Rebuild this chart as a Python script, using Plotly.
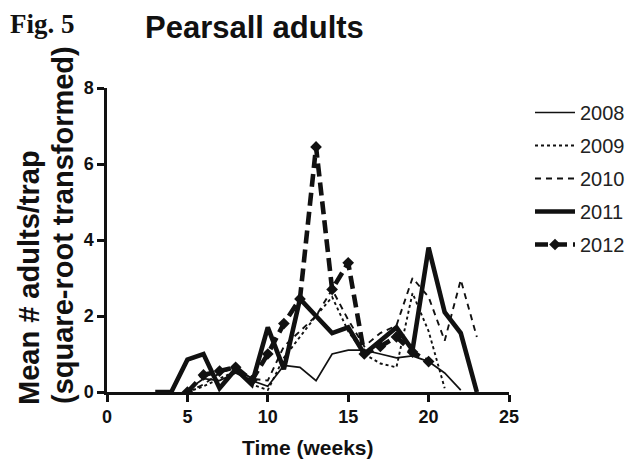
import plotly.graph_objects as go

# Weekly mean adult counts per trap (square-root transformed), Pearsall site
weeks_2008 = list(range(5, 23))
adults_2008 = [0.05, 0.35, 0.3, 0.5, 0.3, 0.15, 0.7, 0.65, 0.3, 1.0, 1.1, 1.1, 1.0, 0.9, 0.95, 0.8, 0.5, 0.05]

weeks_2009 = list(range(5, 22))
adults_2009 = [0.0, 0.15, 0.35, 0.55, 0.2, 0.05, 0.9, 1.45, 2.0, 2.5, 1.6, 1.0, 0.75, 0.65, 2.6, 1.6, 0.1]

weeks_2010 = list(range(5, 24))
adults_2010 = [0.0, 0.2, 0.5, 0.65, 0.35, 0.3, 1.2, 1.6, 2.0, 2.7, 1.9, 1.2, 1.55, 1.75, 3.0, 2.5, 1.35, 2.95, 1.45]

weeks_2011 = list(range(3, 24))
adults_2011 = [0.0, 0.0, 0.85, 1.0, 0.1, 0.6, 0.2, 1.7, 0.6, 2.45, 2.0, 1.55, 1.7, 1.0, 1.35, 1.7, 1.1, 3.8, 2.1, 1.55, 0.0]

weeks_2012 = list(range(5, 21))
adults_2012 = [0.0, 0.45, 0.55, 0.65, 0.3, 1.0, 1.8, 2.45, 6.45, 2.7, 3.4, 1.0, 1.2, 1.45, 1.05, 0.8]

x_ticks = [0, 5, 10, 15, 20, 25]
y_ticks = [0, 2, 4, 6, 8]

FONT = "Liberation Sans, Arial, sans-serif"
INK = "#111111"

# Page geometry: plot box from x=107 to 509 px, y=88 to 392 px
W, H = 633, 464
L, T, B = 107, 88, 72
PAPER_W = W - L
X_DOMAIN_END = 402 / PAPER_W


def px_x(p):
    return (p - L) / PAPER_W


def px_y(p):
    return (H - B - p) / (H - T - B)


fig = go.Figure()

series = [
    ("2008", weeks_2008, adults_2008, dict(width=1.7, dash="solid"), None),
    ("2009", weeks_2009, adults_2009, dict(width=1.9, dash="dot"), None),
    ("2010", weeks_2010, adults_2010, dict(width=1.9, dash="6px,5px"), None),
    ("2011", weeks_2011, adults_2011, dict(width=4.6, dash="solid"), None),
    ("2012", weeks_2012, adults_2012, dict(width=4.6, dash="13px,6px"),
     dict(symbol="diamond", size=9, color=INK)),
]

for i, (name, xs, ys, line, marker) in enumerate(series):
    fig.add_trace(go.Scatter(
        x=xs, y=ys, name=name,
        mode="lines+markers" if marker else "lines",
        line=dict(color=INK, **line),
        marker=marker,
        legendgroup=f"g{i}",
    ))

axis_font = dict(family=FONT, size=18, color=INK, weight="bold")

fig.update_xaxes(
    domain=[0, X_DOMAIN_END], automargin=False,
    range=[0, 25], tickvals=x_ticks, showgrid=False, zeroline=False,
    showline=True, linecolor=INK, linewidth=2.5,
    ticks="outside", ticklen=7, tickwidth=2.5, tickcolor=INK,
    tickfont=axis_font,
)
fig.update_yaxes(
    automargin=False,
    range=[0, 8], tickvals=y_ticks, showgrid=False, zeroline=False,
    showline=True, linecolor=INK, linewidth=2.5,
    ticks="outside", ticklen=7, tickwidth=2.5, tickcolor=INK,
    tickfont=axis_font,
)

fig.update_layout(
    width=W, height=H,
    margin=dict(l=L, r=0, t=T, b=B),
    plot_bgcolor="white", paper_bgcolor="white",
    showlegend=True,
    legend=dict(
        x=px_x(530), y=px_y(93), xanchor="left", yanchor="top",
        font=dict(family=FONT, size=20, color="#222222"),
        tracegroupgap=4, itemwidth=40, bgcolor="rgba(0,0,0,0)",
    ),
    annotations=[
        dict(text="Pearsall adults", xref="paper", yref="paper",
             x=px_x(254), y=px_y(27), xanchor="center", yanchor="middle", showarrow=False,
             font=dict(family=FONT, size=31, color=INK, weight="bold")),
        dict(text="Fig. 5", xref="paper", yref="paper",
             x=px_x(8), y=px_y(24), xanchor="left", yanchor="middle", showarrow=False,
             font=dict(family="Liberation Serif, Times New Roman, serif", size=27, color=INK, weight="bold")),
        dict(text="Time (weeks)", xref="paper", yref="paper",
             x=px_x(308), y=px_y(447), xanchor="center", yanchor="middle", showarrow=False,
             font=dict(family=FONT, size=21, color=INK, weight="bold")),
        dict(text="Mean # adults/trap", xref="paper", yref="paper",
             x=px_x(29), y=px_y(278), xanchor="center", yanchor="middle", showarrow=False, textangle=-90,
             font=dict(family=FONT, size=29, color=INK, weight="bold")),
        dict(text="(square-root transformed)", xref="paper", yref="paper",
             x=px_x(63), y=px_y(225), xanchor="center", yanchor="middle", showarrow=False, textangle=-90,
             font=dict(family=FONT, size=29, color=INK, weight="bold")),
    ],
)

fig.write_html("out.html")
